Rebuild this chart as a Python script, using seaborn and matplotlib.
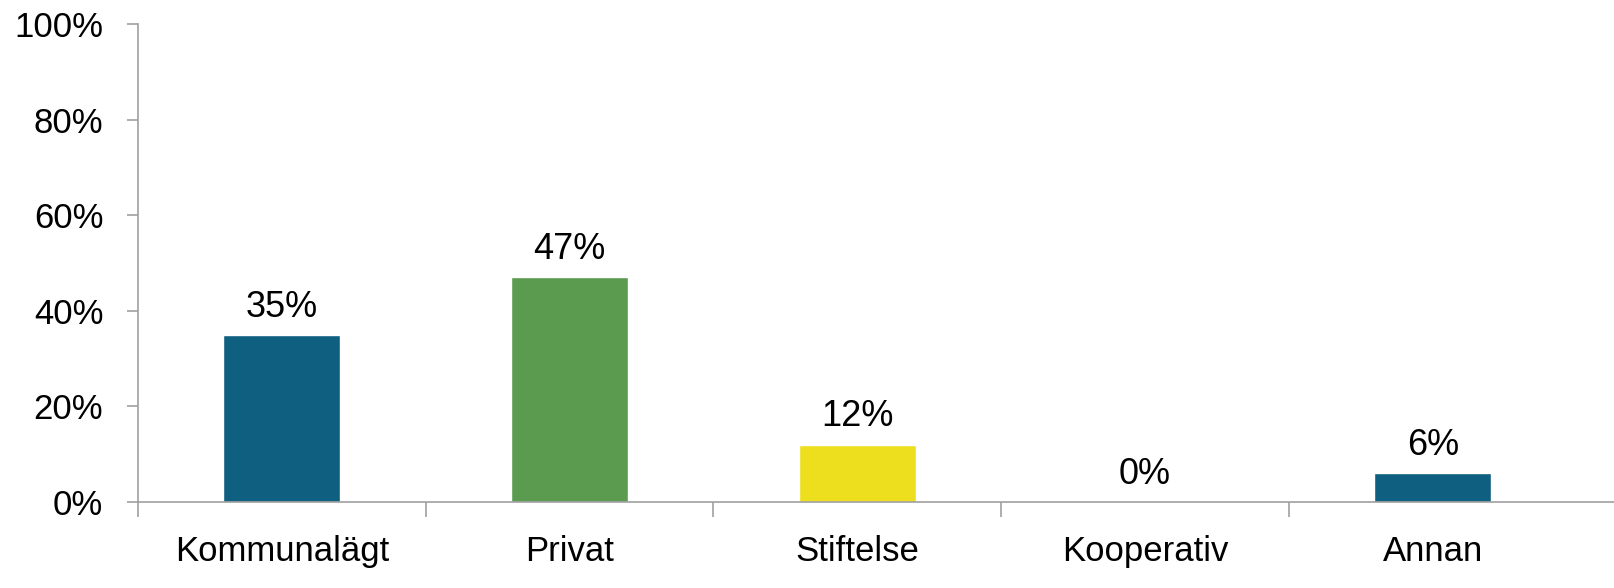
import matplotlib
matplotlib.use("Agg")
import matplotlib.pyplot as plt
import matplotlib.ticker as mticker
import seaborn as sns
import pandas as pd

# data
categories = ["Kommunalägt", "Privat", "Stiftelse", "Kooperativ", "Annan"]
shares = [35, 47, 12, 0, 6]
bar_colors = ["#0E5F80", "#5A9B50", "#EEDF1E", "#0E5F80", "#0E5F80"]

sns.set_theme(style="white")
plt.rcParams["font.family"] = ["Liberation Sans", "DejaVu Sans"]

df = pd.DataFrame({"Kategori": categories, "Andel": shares})

fig = plt.figure(figsize=(16.14, 5.88), dpi=100)
ax = fig.add_axes([138 / 1614, 1 - 502 / 588, 1 - 138 / 1614, (502 - 24) / 588])

sns.barplot(data=df, x="Kategori", y="Andel", hue="Kategori",
            palette=bar_colors, width=0.406, legend=False, ax=ax,
            saturation=1)

# value labels above bars
for i, v in enumerate(shares):
    ax.text(i, v + 3.8, f"{v}%", ha="center", va="baseline", fontsize=26,
            color="black")

ax.set_ylim(0, 100)
ax.set_xlim(-0.5, 4.63)
ax.yaxis.set_major_locator(mticker.MultipleLocator(20))
ax.yaxis.set_major_formatter(mticker.FuncFormatter(lambda v, p: f"{v:.0f}%"))

# category boundaries as x ticks
ax.set_xticks(range(len(categories)))
ax.set_xticklabels(categories)
ax.set_xticks([-0.5, 0.5, 1.5, 2.5, 3.5], minor=True)
ax.tick_params(axis="x", which="major", length=0, pad=24, labelsize=25,
               labelcolor="black")
ax.tick_params(axis="x", which="minor", length=11, width=1.2, color="#A0A0A0",
               bottom=True, direction="out")
ax.tick_params(axis="y", length=8, width=1.2, color="#A0A0A0", left=True,
               direction="out", pad=17, labelsize=25, labelcolor="black")

ax.set_xlabel("")
ax.set_ylabel("")
for side in ["top", "right"]:
    ax.spines[side].set_visible(False)
for side in ["left", "bottom"]:
    ax.spines[side].set_color("#A0A0A0")
    ax.spines[side].set_linewidth(1.2)

fig.savefig("out.png", dpi=100)
